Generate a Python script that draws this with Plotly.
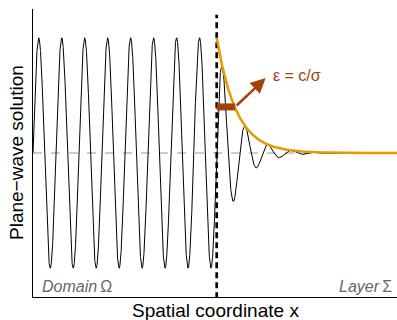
import numpy as np
import plotly.graph_objects as go

# --- data ---
x_interface = 8.0          # position of the domain/layer interface (in wavelengths)
x_end = 15.85              # right end of the plotted range
eps = 0.85                 # decay length of the layer envelope
n_samples = 4000
bar_x = [8.0, 8.8]         # epsilon marker bar
bar_y = [0.4, 0.4]
arrow_tail = (8.8, 0.4)
arrow_head = (10.13, 0.65)
label_eps = "ε = c/σ"
label_domain = "<i>Domain</i>\u2009Ω"
label_layer = "<i>Layer</i>\u2009Σ"
x_title = "Spatial coordinate x"
y_title = "Plane\u2212wave solution"

x = np.linspace(0, x_end, n_samples)
damp = np.where(x < x_interface, 1.0, np.exp(-(x - x_interface) / eps))
wave = np.sin(2 * np.pi * x) * damp
xe = np.linspace(x_interface, x_end, 1500)
env = np.exp(-(xe - x_interface) / eps)

BROWN = "#A3420C"
ORANGE = "#E69A00"

fig = go.Figure()
# zero line
fig.add_trace(go.Scatter(x=[0, x_end], y=[0, 0], mode="lines",
                         line=dict(color="#9a9a9a", width=1, dash="dash"), hoverinfo="skip"))
fig.add_trace(go.Scatter(x=x, y=wave, mode="lines",
                         line=dict(color="black", width=1), hoverinfo="skip"))
# interface
fig.add_trace(go.Scatter(x=[x_interface, x_interface], y=[-1.26, 1.2], mode="lines",
                         line=dict(color="black", width=2.7, dash="6px,4px"), hoverinfo="skip"))
fig.add_trace(go.Scatter(x=xe, y=env, mode="lines",
                         line=dict(color=ORANGE, width=2.5), hoverinfo="skip"))
fig.add_trace(go.Scatter(x=bar_x, y=bar_y, mode="lines",
                         line=dict(color=BROWN, width=7), hoverinfo="skip"))

fig.add_annotation(x=arrow_head[0], y=arrow_head[1], ax=arrow_tail[0], ay=arrow_tail[1],
                   xref="x", yref="y", axref="x", ayref="y", text="", showarrow=True,
                   arrowhead=2, arrowsize=1.2, arrowwidth=2.5, arrowcolor=BROWN)
fig.add_annotation(x=10.35, y=0.67, xref="x", yref="y", text=label_eps, showarrow=False,
                   xanchor="left", yanchor="middle",
                   font=dict(family="Liberation Sans, Arial", size=16, color=BROWN))
fig.add_annotation(x=0.3, y=-1.16, xref="x", yref="y", text=label_domain, showarrow=False,
                   xanchor="left", yanchor="middle",
                   font=dict(family="Liberation Sans, Arial", size=16, color="#666666"))
fig.add_annotation(x=x_end - 0.15, y=-1.16, xref="x", yref="y", text=label_layer, showarrow=False,
                   xanchor="right", yanchor="middle",
                   font=dict(family="Liberation Sans, Arial", size=16, color="#666666"))
fig.add_annotation(x=0.5, y=0, xref="paper", yref="paper", yshift=-13, text=x_title,
                   showarrow=False, xanchor="center", yanchor="middle",
                   font=dict(family="Liberation Sans, Arial", size=19, color="black"))
fig.add_annotation(x=0, y=0.5, xref="paper", yref="paper", xshift=-17, text=y_title,
                   showarrow=False, xanchor="center", yanchor="middle", textangle=-90,
                   font=dict(family="Liberation Sans, Arial", size=19, color="black"))

fig.update_layout(
    width=397, height=320, margin=dict(l=33, r=0, t=9, b=23),
    paper_bgcolor="white", plot_bgcolor="white", showlegend=False,
    xaxis=dict(range=[0, x_end], showgrid=False, zeroline=False, showticklabels=False,
               ticks="", showline=True, linecolor="black", linewidth=1),
    yaxis=dict(range=[-1.25, 1.25], showgrid=False, zeroline=False, showticklabels=False,
               ticks="", showline=True, linecolor="black", linewidth=1),
)
fig.write_html("out.html")
